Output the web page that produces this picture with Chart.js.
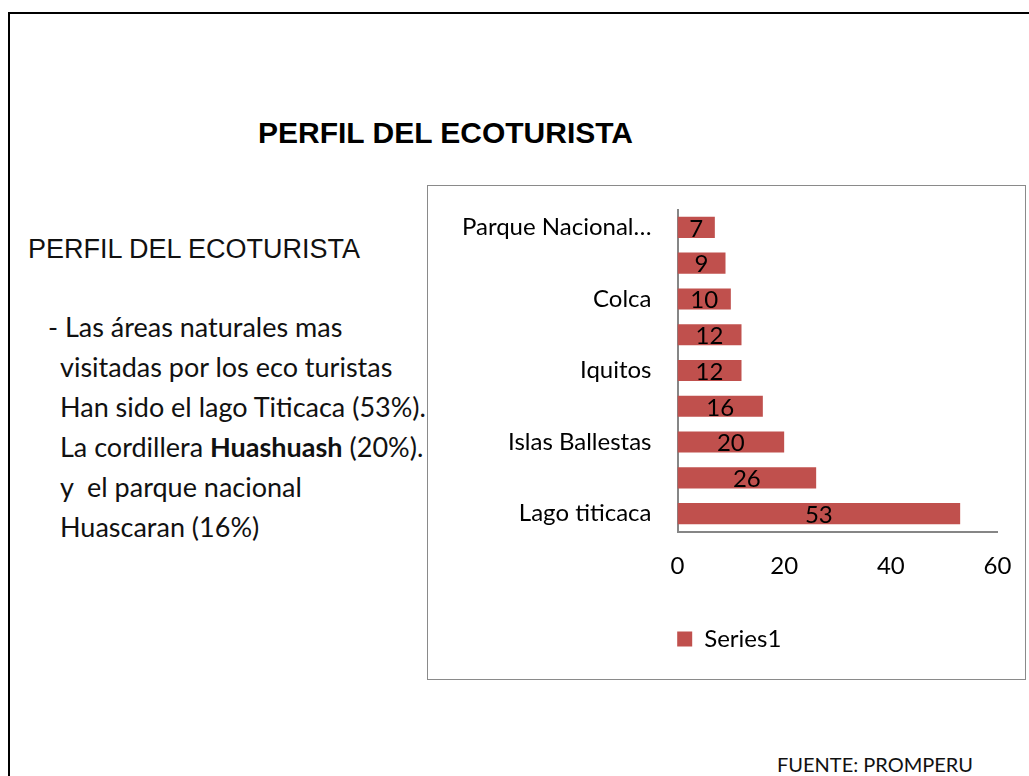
<!DOCTYPE html>
<html>
<head>
<meta charset="utf-8">
<script src="https://cdn.jsdelivr.net/npm/chart.js@4.4.1/dist/chart.umd.min.js"></script>
<style>
  html, body { margin: 0; padding: 0; background: #fff; }
  body { width: 1029px; height: 776px; position: relative; overflow: hidden; }
  .frame { position: absolute; left: 8px; top: 12px; width: 1100px; height: 900px;
           border-left: 2px solid #000; border-top: 2px solid #000; }
  .title { position: absolute; left: 258px; top: 116px; font: bold 30px "Liberation Sans", Arial, sans-serif; color: #000; }
  .heading { position: absolute; left: 28px; top: 234px; font: 27px "Liberation Sans", Arial, sans-serif; color: #111; }
  .body { position: absolute; left: 48px; top: 307px; font: 27px Lato, sans-serif; color: #111; line-height: 40px; white-space: nowrap; }
  .body div { padding-left: 12px; }
  .body div.first { padding-left: 0; }
  .box { position: absolute; left: 427px; top: 185px; width: 597px; height: 493px;
         border: 1.5px solid #8a8a8a; background: #fff; }
  .fuente { position: absolute; left: 777px; top: 752px; font: 20px Lato, sans-serif; color: #111; }
</style>
</head>
<body>
<div class="frame"></div>
<div class="title">PERFIL DEL ECOTURISTA</div>
<div class="heading">PERFIL DEL ECOTURISTA</div>
<div class="body">
  <div class="first">- Las áreas naturales mas</div>
  <div>visitadas por los eco turistas</div>
  <div>Han sido el lago Titicaca (53%).</div>
  <div>La cordillera <b>Huashuash</b> (20%).</div>
  <div>y&nbsp; el parque nacional</div>
  <div>Huascaran (16%)</div>
</div>
<div class="box"><canvas id="chart"></canvas></div>
<div class="fuente">FUENTE: PROMPERU</div>

<script>
// categories top to bottom (Excel skipped every other label)
const categories = ["Parque Nacional…", "", "Colca", "", "Iquitos", "", "Islas Ballestas", "", "Lago titicaca"];
const values = [7, 9, 10, 12, 12, 16, 20, 26, 53];
const seriesName = "Series1";
const xTicks = [0, 20, 40, 60];

const barColor = "#C0504D";
const axisColor = "#868686";
const labelFont = { family: "Lato, sans-serif", size: 24 };

const valueLabels = {
    id: "valueLabels",
    afterDatasetsDraw(chart) {
        const ctx = chart.ctx;
        const meta = chart.getDatasetMeta(0);
        ctx.save();
        ctx.font = "24px Lato, sans-serif";
        ctx.fillStyle = "#000";
        ctx.textAlign = "center";
        ctx.textBaseline = "middle";
        meta.data.forEach((bar, i) => {
            ctx.fillText(values[i], (bar.x + bar.base) / 2, bar.y + 1.5);
        });
        ctx.restore();
    }
};

new Chart(document.getElementById("chart"), {
    type: "bar",
    data: {
        labels: categories,
        datasets: [{
            label: seriesName,
            data: values,
            backgroundColor: barColor,
            barPercentage: 0.59,
            categoryPercentage: 1
        }]
    },
    options: {
        indexAxis: "y",
        responsive: true,
        maintainAspectRatio: false,
        animation: false,
        layout: { padding: { left: 33, right: 27.5, top: 23.5, bottom: 18 } },
        scales: {
            x: {
                min: 0, max: 60,
                afterBuildTicks: s => { s.ticks = xTicks.map(v => ({ value: v })); },
                grid: { display: false, drawTicks: false },
                border: { color: axisColor, width: 2 },
                ticks: { color: "#000", font: labelFont, padding: 20.5 },
                afterFit: s => { s.height = 85.5; s.paddingLeft = 0; s.paddingRight = 0; }
            },
            y: {
                grid: { display: false, drawTicks: false },
                border: { color: axisColor, width: 2 },
                ticks: { color: "#000", font: labelFont, padding: 26, autoSkip: false },
                afterFit: s => { s.width = 216.5; s.paddingTop = 0; s.paddingBottom = 0; }
            }
        },
        plugins: {
            legend: {
                position: "bottom",
                labels: { color: "#000", font: labelFont, boxWidth: 15, boxHeight: 15, padding: 10 }
            },
            tooltip: { enabled: false }
        }
    },
    plugins: [valueLabels]
});
</script>
</body>
</html>
